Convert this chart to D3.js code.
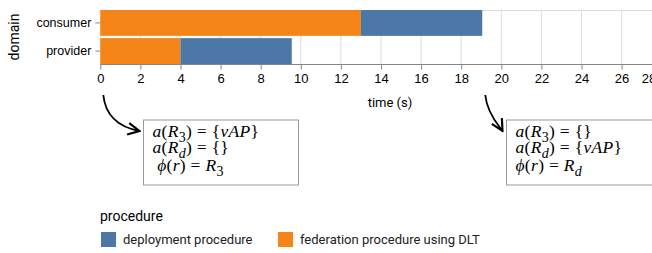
<!DOCTYPE html>
<html>
<head>
<meta charset="utf-8">
<script src="https://cdn.jsdelivr.net/npm/d3@7"></script>
<style>
  body { margin: 0; background: #fff; }
  svg { display: block; font-family: Roboto, "Liberation Sans", sans-serif; }
  .math { font-family: "Liberation Serif", "DejaVu Serif", serif; font-size: 17.5px; letter-spacing: 0.3px; fill: #000; }
</style>
</head>
<body>
<svg width="652" height="253"></svg>
<script>
// données
const domains = ["consumer", "provider"];
const procedures = ["deployment procedure", "federation procedure using DLT"];
const colors = ["#4c78a8", "#f58518"];
// segments : [domaine, procédure, début, fin]
const segments = [
  ["consumer", "federation procedure using DLT", 0, 13],
  ["consumer", "deployment procedure", 13, 19.05],
  ["provider", "federation procedure using DLT", 0, 4],
  ["provider", "deployment procedure", 4, 9.55]
];
const xTicks = [0, 2, 4, 6, 8, 10, 12, 14, 16, 18, 20, 22, 24, 26, 28];
const annotTimes = [0, 19.05];

const svg = d3.select("svg");
const mLeft = 100.3, mTop = 10, plotH = 54;

const x = d3.scaleLinear().domain([0, 30]).range([mLeft, mLeft + 601.5]);
const y = d3.scaleBand().domain(domains).range([mTop, mTop + plotH]).paddingInner(0.08);
const color = d3.scaleOrdinal().domain(procedures).range(colors);

// grille
svg.append("g").selectAll("line").data(xTicks).join("line")
  .attr("x1", d => x(d)).attr("x2", d => x(d))
  .attr("y1", mTop).attr("y2", mTop + plotH)
  .attr("stroke", "#ddd");
svg.append("line").attr("x1", mLeft).attr("x2", 652)
  .attr("y1", mTop + 0.5).attr("y2", mTop + 0.5).attr("stroke", "#ddd");

// barres
svg.append("g").selectAll("rect").data(segments).join("rect")
  .attr("x", d => x(d[2]))
  .attr("width", d => x(d[3]) - x(d[2]))
  .attr("y", d => y(d[0]))
  .attr("height", y.bandwidth())
  .attr("fill", d => color(d[1]));

// axe x
const xAxis = svg.append("g")
  .attr("transform", `translate(0,${mTop + plotH + 0.5})`)
  .call(d3.axisBottom(x).tickValues(xTicks).tickSize(5).tickPadding(4));
xAxis.select(".domain").attr("stroke", "#888").attr("d", `M${mLeft},0H652`);
xAxis.selectAll(".tick line").attr("stroke", "#888");
xAxis.selectAll("text").attr("font-size", 13).attr("fill", "#000");
// dernier libellé aligné au bord (comme dans l'original)
xAxis.selectAll(".tick text").filter(d => d === 28)
  .attr("text-anchor", "end").attr("dx", -6);

svg.append("text").attr("x", 390).attr("y", 107)
  .attr("text-anchor", "middle").attr("font-size", 13).text("time (s)");

// axe y
const yAxis = svg.append("g")
  .attr("transform", `translate(${mLeft},0)`)
  .call(d3.axisLeft(y).tickSize(5).tickPadding(4));
yAxis.select(".domain").remove();
yAxis.selectAll(".tick line").attr("stroke", "#888");
yAxis.selectAll("text").attr("font-size", 12.5).attr("fill", "#000");

svg.append("text").attr("transform", "translate(19,37) rotate(-90)")
  .attr("text-anchor", "middle").attr("font-size", 14).text("domain");

// annotations
const boxes = [
  { t: annotTimes[0], bx: 143.5, lines: [
    [["a", 1], ["(", 0], ["R", 1], ["3", 0, "sub"], [") = {", 0], ["vAP", 1], ["}", 0]],
    [["a", 1], ["(", 0], ["R", 1], ["d", 1, "sub"], [") = {}", 0]],
    [[" ", 0], ["\u03d5", 1], ["(", 0], ["r", 1], [") = ", 0], ["R", 1], ["3", 0, "sub"]]
  ]},
  { t: annotTimes[1], bx: 506.5, lines: [
    [["a", 1], ["(", 0], ["R", 1], ["3", 0, "sub"], [") = {}", 0]],
    [["a", 1], ["(", 0], ["R", 1], ["d", 1, "sub"], [") = {", 0], ["vAP", 1], ["}", 0]],
    [["\u03d5", 1], ["(", 0], ["r", 1], [") = ", 0], ["R", 1], ["d", 1, "sub"]]
  ]}
];
const rowY = [137, 153, 171];

svg.append("defs").append("marker")
  .attr("id", "arr").attr("viewBox", "0 0 10 10").attr("refX", 9).attr("refY", 5)
  .attr("markerWidth", 8).attr("markerHeight", 8).attr("orient", "auto")
  .append("path").attr("d", "M1,1L9,5L1,9").attr("fill", "none").attr("stroke", "#000").attr("stroke-width", 1.5);

boxes.forEach(b => {
  const x0 = x(b.t) + 3;
  svg.append("path")
    .attr("d", `M${x0},95 C${x0 + 2},115 ${x0 + 15},127 ${b.bx - 4},131`)
    .attr("fill", "none").attr("stroke", "#000").attr("stroke-width", 1.8)
    .attr("marker-end", "url(#arr)");
  svg.append("rect").attr("x", b.bx).attr("y", 120).attr("width", 155).attr("height", 65)
    .attr("fill", "#fff").attr("stroke", "#999");
  b.lines.forEach((ln, i) => {
    const t = svg.append("text").attr("class", "math")
      .attr("x", b.bx + 9).attr("y", rowY[i]).attr("xml:space", "preserve");
    ln.forEach((seg, j) => {
      const ts = t.append("tspan").text(seg[0])
        .attr("font-style", seg[1] ? "italic" : "normal");
      if (seg[2] === "sub") ts.attr("dy", 5).attr("font-size", 14);
      else if (j > 0 && ln[j - 1][2] === "sub") ts.attr("dy", -5);
    });
  });
});

// légende
svg.append("text").attr("x", 100).attr("y", 221).attr("font-size", 14).text("procedure");
const legX = [101, 278];
procedures.forEach((p, i) => {
  svg.append("rect").attr("x", legX[i]).attr("y", 232).attr("width", 15).attr("height", 15)
    .attr("fill", color(p));
  svg.append("text").attr("x", legX[i] + 22).attr("y", 244).attr("font-size", 13)
    .attr("fill", "#222").text(p);
});
</script>
</body>
</html>
